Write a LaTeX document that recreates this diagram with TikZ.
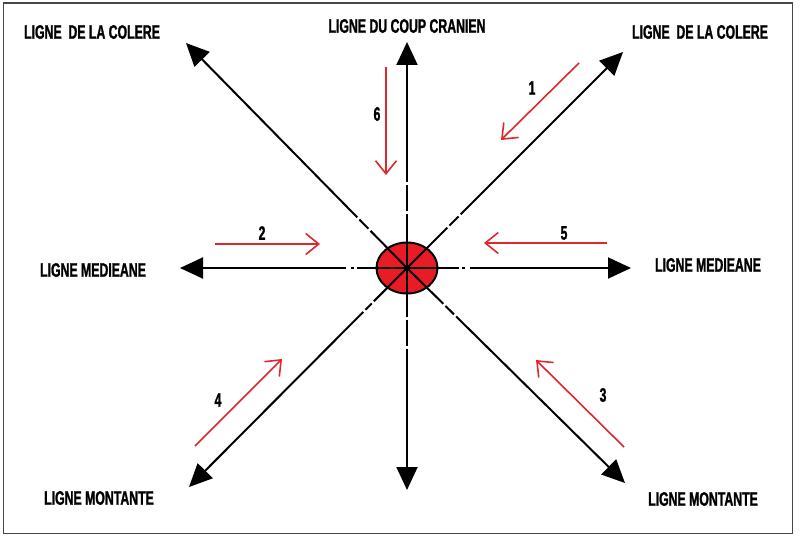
\documentclass[tikz,border=0pt]{standalone}
\usepackage{fontspec}
\newfontfamily\labfont[FakeStretch=0.63,FakeBold=1.2]{Liberation Sans Bold}
\usetikzlibrary{arrows.meta,shapes.geometric}
\definecolor{redarrow}{RGB}{222,40,44}
\definecolor{redfill}{RGB}{232,28,36}
\definecolor{framegray}{RGB}{70,70,70}
\tikzset{
  lab/.style={font=\labfont\fontsize{19.5}{19.5}\selectfont, inner sep=0pt, text=black},
  axis/.style={line width=2pt, black, -{Triangle[length=23pt,width=21pt]}},
  redarr/.style={line width=1.6pt, redarrow, -{Straight Barb[length=13pt,width=21pt,line width=1.6pt]}},
}
\begin{document}
\begin{tikzpicture}[x=1pt,y=-1pt]
\useasboundingbox (0,0) rectangle (800,543);
\draw[framegray, line width=1.5pt] (3.5,3) rectangle (792.5,533.5);

% centre
\node[ellipse, draw=black, line width=2pt, fill=redfill, minimum width=61pt, minimum height=51pt, inner sep=0pt] (C) at (407,268) {};

% tips
\coordinate (N) at (407,42);
\coordinate (S) at (407,490);
\coordinate (W) at (180,268);
\coordinate (E) at (631,268);
\coordinate (NW) at (186,43);
\coordinate (NE) at (623,52);
\coordinate (SW) at (189,487);
\coordinate (SE) at (625,483);

\draw[axis, dash pattern=on 54.5pt off 3pt on 26pt off 3pt on 1000pt off 1pt] (C.center) -- (N);
\draw[axis, dash pattern=on 48.5pt off 3pt on 26pt off 3pt on 1000pt off 1pt] (C.center) -- (S);
\draw[axis, dash pattern=on 50pt off 3pt on 3pt off 5pt on 1000pt off 1pt] (C.center) -- (W);
\draw[axis, dash pattern=on 52pt off 3pt on 3pt off 5pt on 1000pt off 1pt] (C.center) -- (E);
\draw[axis, dash pattern=on 52pt off 3pt on 13pt off 3pt on 1000pt off 1pt] (C.center) -- (NW);
\draw[axis, dash pattern=on 57pt off 3pt on 13pt off 3pt on 1000pt off 1pt] (C.center) -- (NE);
\draw[axis, dash pattern=on 47pt off 3pt on 9pt off 3pt on 1000pt off 1pt] (C.center) -- (SW);
\draw[axis, dash pattern=on 51pt off 3pt on 12pt off 3pt on 1000pt off 1pt] (C.center) -- (SE);

% labels
\node[lab] (tNW) at (92,32) {LIGNE\ \ DE LA COLERE};
\node[lab] (tN) at (407,26) {LIGNE DU COUP CRANIEN};
\node[lab] (tNE) at (700,32) {LIGNE\ \ DE LA COLERE};
\node[lab] (tW) at (93,270) {LIGNE MEDIEANE};
\node[lab] (tE) at (708,265) {LIGNE MEDIEANE};
\node[lab] (tSW) at (99,498) {LIGNE MONTANTE};
\node[lab] (tSE) at (703,499) {LIGNE MONTANTE};

% red arrows
\coordinate (r1a) at (579,63);  \coordinate (r1b) at (501,140);
\coordinate (r6a) at (386,67);  \coordinate (r6b) at (386,175);
\coordinate (r2a) at (215,244); \coordinate (r2b) at (320,244);
\coordinate (r5a) at (607,243); \coordinate (r5b) at (484,243);
\coordinate (r4a) at (195,446); \coordinate (r4b) at (282,359);
\coordinate (r3a) at (624,447); \coordinate (r3b) at (536,360);
\draw[redarr] (r1a) -- (r1b);
\draw[redarr] (r6a) -- (r6b);
\draw[redarr] (r2a) -- (r2b);
\draw[redarr] (r5a) -- (r5b);
\draw[redarr] (r4a) -- (r4b);
\draw[redarr] (r3a) -- (r3b);

\node[lab] (n1) at (532,88) {1};
\node[lab] (n6) at (377,114) {6};
\node[lab] (n2) at (262,233) {2};
\node[lab] (n5) at (564,233) {5};
\node[lab] (n4) at (218,400) {4};
\node[lab] (n3) at (603,395) {3};
\end{tikzpicture}
\end{document}
